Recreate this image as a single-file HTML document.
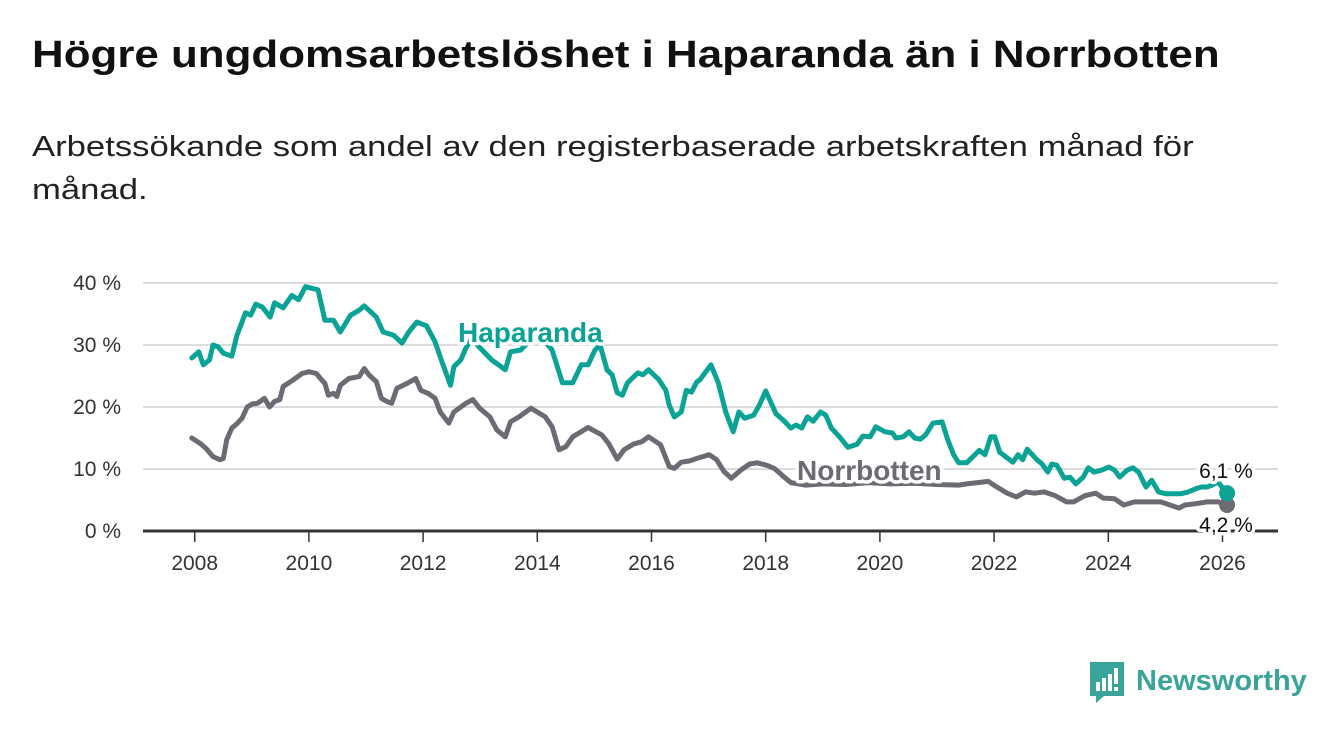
<!DOCTYPE html>
<html><head><meta charset="utf-8"><style>
body{margin:0;background:#fff;width:1340px;height:734px;overflow:hidden;font-family:"Liberation Sans",sans-serif;}
h1{position:absolute;left:32px;top:34px;margin:0;font-size:38px;font-weight:bold;color:#111;white-space:nowrap;transform:scaleX(1.155);transform-origin:left top}
p{position:absolute;left:32px;top:126px;margin:0;font-size:29px;line-height:43px;color:#222;white-space:nowrap;transform:scaleX(1.195);transform-origin:left top}
svg{position:absolute;left:0;top:0}
</style></head><body>
<h1>Högre ungdomsarbetslöshet i Haparanda än i Norrbotten</h1>
<p>Arbetssökande som andel av den registerbaserade arbetskraften månad för<br>månad.</p>
<svg id="chart" width="1340" height="734"></svg>
<script>
const yTicks=[0,10,20,30,40];
const yTickLabels=["0 %","10 %","20 %","30 %","40 %"];
const xTicks=[2008,2010,2012,2014,2016,2018,2020,2022,2024,2026];
const hapDates=[2007.95,2008.07,2008.15,2008.26,2008.32,2008.41,2008.5,2008.65,2008.74,2008.89,2008.98,2009.07,2009.19,2009.32,2009.4,2009.55,2009.7,2009.82,2009.94,2010.16,2010.28,2010.43,2010.55,2010.73,2010.88,2010.97,2011.18,2011.3,2011.48,2011.63,2011.75,2011.89,2012.06,2012.21,2012.33,2012.48,2012.54,2012.66,2012.75,2012.85,2012.95,2013.2,2013.32,2013.44,2013.53,2013.71,2013.9,2014.05,2014.26,2014.44,2014.62,2014.77,2014.89,2015.01,2015.1,2015.22,2015.31,2015.4,2015.49,2015.58,2015.76,2015.85,2015.95,2016.13,2016.25,2016.31,2016.4,2016.52,2016.61,2016.7,2016.79,2016.85,2017.04,2017.17,2017.3,2017.43,2017.53,2017.63,2017.79,2017.89,2018.0,2018.18,2018.34,2018.44,2018.53,2018.63,2018.73,2018.83,2018.96,2019.05,2019.15,2019.31,2019.44,2019.6,2019.7,2019.83,2019.93,2020.09,2020.22,2020.28,2020.41,2020.51,2020.61,2020.71,2020.8,2020.93,2021.09,2021.19,2021.29,2021.38,2021.52,2021.74,2021.84,2021.94,2022.01,2022.1,2022.33,2022.42,2022.5,2022.58,2022.75,2022.84,2022.94,2023.01,2023.1,2023.23,2023.33,2023.43,2023.56,2023.65,2023.75,2023.88,2024.01,2024.11,2024.2,2024.33,2024.43,2024.53,2024.66,2024.76,2024.88,2025.01,2025.27,2025.4,2025.53,2025.63,2025.73,2025.82,2025.92,2026.08];
const hapValues=[27.9,28.9,26.8,27.6,30,29.7,28.7,28.2,31.6,35.2,34.8,36.6,36.1,34.5,36.8,36,38,37.3,39.4,38.9,34,34,32.1,34.8,35.6,36.3,34.5,32.1,31.6,30.3,32.1,33.7,33.1,30.5,27.3,23.5,26.5,27.6,29.5,31,30,27.6,26.8,26,28.9,29.2,31,31.5,29.2,23.9,23.9,26.8,26.8,29.2,30,26,25.2,22.3,21.9,23.9,25.5,25.2,26,24.4,22.7,20.3,18.4,19.2,22.7,22.4,24,24.4,26.8,23.9,19.2,16,19.2,18.2,18.7,20.3,22.6,18.9,17.6,16.6,17.1,16.6,18.4,17.7,19.2,18.7,16.6,15,13.5,14,15.3,15.2,16.8,16,15.8,15,15.2,16,15,14.8,15.5,17.4,17.6,14.7,12.3,11,11,13,12.3,15.2,15.2,12.7,11.1,12.3,11.5,13.2,11.5,10.8,9.5,10.8,10.6,8.5,8.7,7.6,8.7,10.2,9.5,9.8,10.3,9.8,8.7,9.8,10.2,9.5,7.1,8.2,6.3,6,6,6.3,6.8,7.1,7.1,7.4,7.9,6.1];
const norDates=[2007.95,2008.1,2008.2,2008.32,2008.44,2008.5,2008.56,2008.65,2008.74,2008.83,2008.92,2009.01,2009.1,2009.22,2009.31,2009.4,2009.49,2009.55,2009.73,2009.88,2010.0,2010.13,2010.22,2010.28,2010.34,2010.43,2010.49,2010.55,2010.7,2010.88,2010.97,2011.06,2011.18,2011.27,2011.36,2011.45,2011.54,2011.72,2011.87,2011.96,2012.09,2012.21,2012.3,2012.45,2012.54,2012.75,2012.87,2012.99,2013.17,2013.29,2013.44,2013.53,2013.68,2013.89,2014.14,2014.26,2014.38,2014.5,2014.62,2014.89,2015.13,2015.25,2015.4,2015.52,2015.68,2015.83,2015.95,2016.16,2016.31,2016.4,2016.52,2016.67,2016.79,2017.01,2017.14,2017.27,2017.4,2017.56,2017.72,2017.85,2018.02,2018.15,2018.31,2018.44,2018.7,2019.0,2019.4,2019.8,2020.2,2020.6,2021.0,2021.38,2021.52,2021.9,2022.03,2022.23,2022.39,2022.55,2022.71,2022.88,2023.07,2023.27,2023.39,2023.59,2023.78,2023.91,2024.11,2024.27,2024.46,2024.69,2024.92,2025.08,2025.24,2025.34,2025.53,2025.73,2025.92,2026.08];
const norValues=[15,14.1,13.3,12,11.5,11.7,14.7,16.6,17.3,18.2,20,20.5,20.6,21.4,20,20.9,21.2,23.3,24.4,25.4,25.7,25.4,24.4,23.8,21.9,22.2,21.7,23.5,24.6,24.9,26.2,25.1,24.1,21.4,20.9,20.6,23,23.8,24.6,22.7,22.2,21.4,19.2,17.4,19.2,20.6,21.2,19.8,18.4,16.3,15.2,17.6,18.4,19.8,18.4,16.8,13.1,13.6,15.2,16.7,15.5,14.1,11.6,13.1,14,14.4,15.2,13.9,10.4,10.1,11.1,11.3,11.7,12.3,11.5,9.6,8.5,9.8,10.8,11,10.6,10.1,8.8,7.8,7.4,7.6,7.5,7.8,7.6,7.7,7.5,7.4,7.6,8,7.2,6.1,5.5,6.3,6.1,6.3,5.7,4.7,4.7,5.7,6.1,5.3,5.2,4.2,4.7,4.7,4.7,4.2,3.7,4.2,4.4,4.7,4.7,4.2];
const NS="http://www.w3.org/2000/svg";
const svg=document.getElementById('chart');
const X=d=>194.7+(d-2008)*57.1;
const Y=v=>531-v*6.2;
function mk(tag,attrs,parent){const e=document.createElementNS(NS,tag);for(const k in attrs)e.setAttribute(k,attrs[k]);(parent||svg).appendChild(e);return e;}
yTicks.forEach((t,i)=>{
  const g=mk('line',{x1:143,x2:1278,y1:Y(t),y2:Y(t),stroke:'#dcdcdc','stroke-width':2});
  
  
  const tx=mk('text',{x:121,y:Y(t)+7,'text-anchor':'end','font-size':21,fill:'#333'});
  tx.textContent=yTickLabels[i];
  
  
});
xTicks.forEach(t=>{
  const tk=mk('line',{x1:X(t),x2:X(t),y1:531,y2:542,stroke:'#333','stroke-width':1.5});
  
  
  const tx=mk('text',{x:X(t),y:570,'text-anchor':'middle','font-size':21,fill:'#333'});
  tx.textContent=t;
  
  
});
const ax=mk('line',{x1:143,x2:1278,y1:531,y2:531,stroke:'#333','stroke-width':3});


function line(dates,vals,col,name){
  const d=dates.map((t,i)=>(i?'L':'M')+X(t).toFixed(1)+' '+Y(vals[i]).toFixed(1)).join(' ');
  const p=mk('path',{d:d,fill:'none',stroke:col,'stroke-width':5,'stroke-linejoin':'round','stroke-linecap':'round'});
  
  
  const n=dates.length-1;
  const c=mk('circle',{cx:X(dates[n]),cy:Y(vals[n]),r:8,fill:col});
  
  
}
line(norDates,norValues,'#6c6a72','norrbotten-line');
line(hapDates,hapValues,'#0ba396','haparanda-line');
function label(txt,x,y,size,col,bold,name,anchor){
  const t=mk('text',{x:x,y:y,'font-size':size,fill:col,'font-weight':bold?'bold':'normal',stroke:'#fff','stroke-width':7,'paint-order':'stroke','stroke-linejoin':'round','text-anchor':anchor||'start'});
  t.textContent=txt;
  
  
}
label('Haparanda',458,342,28,'#0ba396',true,'haparanda-label');
label('Norrbotten',797,480,28,'#6c6a72',true,'norrbotten-label');
label(hapValues[hapValues.length-1].toFixed(1).replace('.',',')+' %',1226,478,21,'#111',false,'haparanda-end-value','middle');
label(norValues[norValues.length-1].toFixed(1).replace('.',',')+' %',1226,532,21,'#111',false,'norrbotten-end-value','middle');
</script>
<svg width="1340" height="734" style="pointer-events:none">
  <path d="M1090 662 h34 v34 h-20 l-8 7 v-7 h-6 z" fill="#3aa39a"/>
  <rect x="1096" y="682" width="4" height="9" fill="#fff"/><rect x="1102" y="678" width="4" height="13" fill="#fff"/><rect x="1108" y="674" width="4" height="17" fill="#fff"/><rect x="1114" y="668" width="4" height="16" fill="#fff"/><rect x="1114" y="687" width="4" height="4" fill="#fff"/>
  <text x="1136" y="690" font-size="29" font-weight="bold" fill="#3aa39a" font-family="Liberation Sans, sans-serif">Newsworthy</text>
</svg>
</body></html>
